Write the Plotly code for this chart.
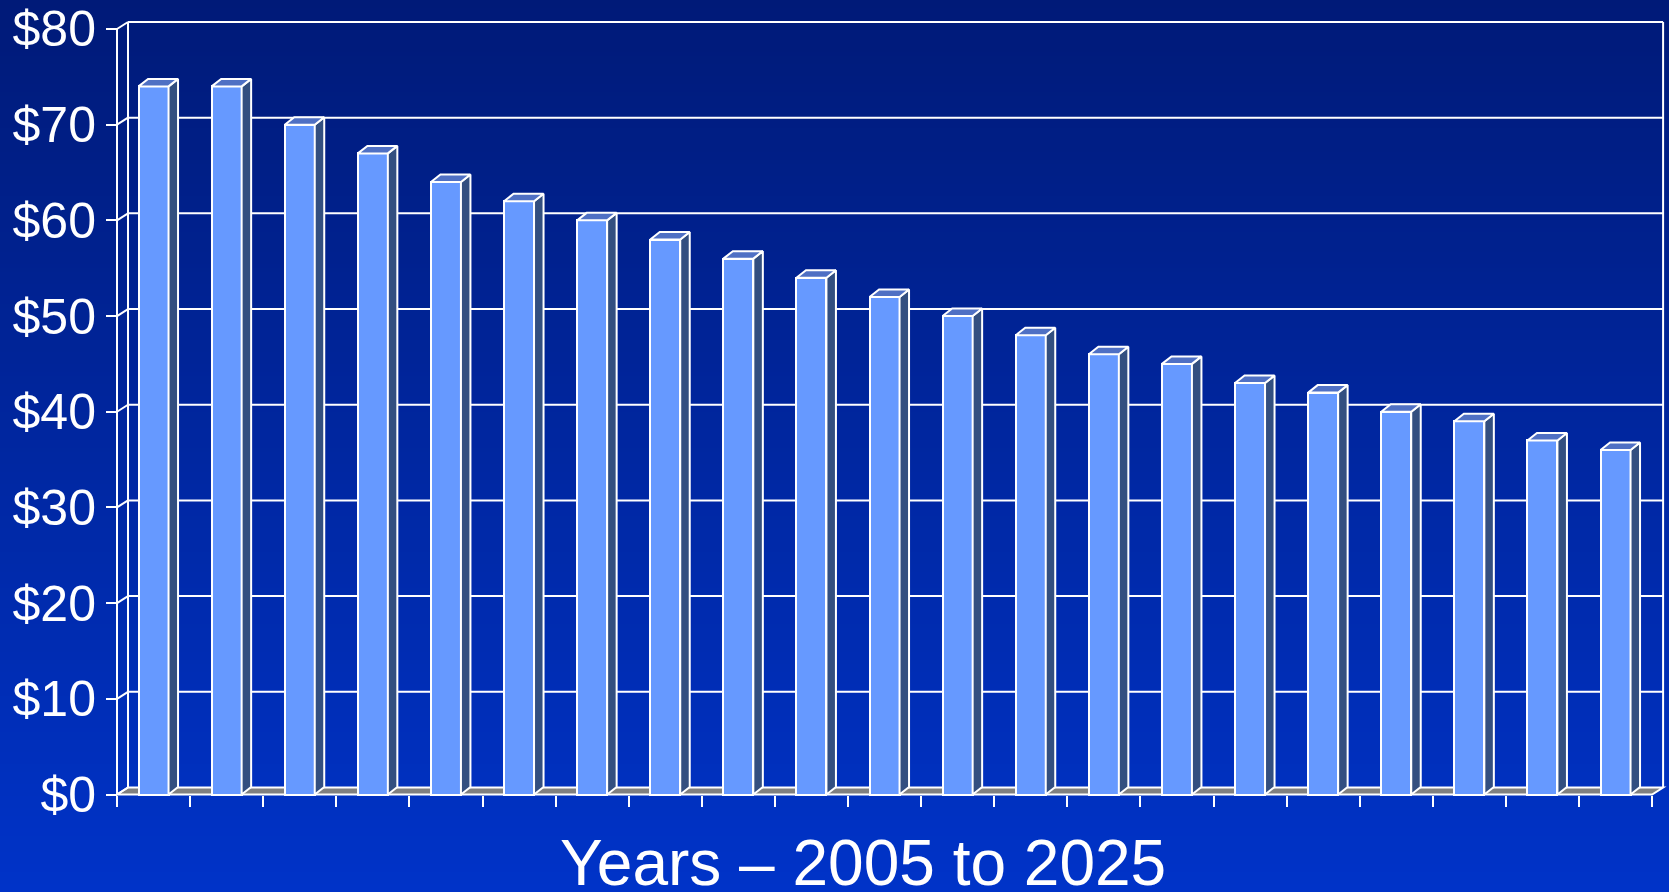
import plotly.graph_objects as go

# ---- data ----
years = ["2005", "2006", "2007", "2008", "2009", "2010", "2011", "2012", "2013", "2014", "2015",
         "2016", "2017", "2018", "2019", "2020", "2021", "2022", "2023", "2024", "2025"]
values = [74, 74, 70, 67, 64, 62, 60, 58, 56, 54, 52, 50, 48, 46, 45, 43, 42, 40, 39, 37, 36]
y_ticks = [0, 10, 20, 30, 40, 50, 60, 70, 80]
y_tick_labels = ["$0", "$10", "$20", "$30", "$40", "$50", "$60", "$70", "$80"]
x_title = "Years \u2013 2005 to 2025"

# ---- page / pixel geometry ----
W, H = 1669, 892
M_L, M_R, M_T, M_B = 100, 0, 4, 80
plot_w = W - M_L - M_R
plot_h = H - M_T - M_B

FRONT_LEFT_PX = 117      # front edge of the value axis
CAT_PX = 73.1            # width of one category slot
ZERO_PX = 794.5          # front floor line
UNIT_PX = 9.569          # pixels per dollar

n = len(values)
x_lo = -0.5
x_hi = n - 0.5
x_range = [x_lo - (FRONT_LEFT_PX - M_L) / CAT_PX, x_lo + (W - M_R - FRONT_LEFT_PX) / CAT_PX]
y_range = [-(H - M_B - ZERO_PX) / UNIT_PX, (ZERO_PX - M_T) / UNIT_PX]
y_top = y_ticks[-1]

# depth offsets of the 3-D look (in data units)
WALL_DX, WALL_DY = 11 / CAT_PX, 7 / UNIT_PX
BAR_DX, BAR_DY = 9.5 / CAT_PX, 7.5 / UNIT_PX
HALF_W = 0.205

FRONT = "#6699FF"
SIDE = "#334F80"
TOP = "#4F70C4"
FLOOR = "#808080"
LINE = "#FFFFFF"
FONT = "Liberation Sans, Arial, sans-serif"

xs = list(range(n))

fig = go.Figure()

# front faces of the columns
fig.add_trace(go.Bar(
    x=xs, y=values, width=2 * HALF_W,
    marker=dict(color=FRONT, line=dict(color=LINE, width=2)),
    hoverinfo="skip", showlegend=False,
))

# right-hand side faces
sx, sy = [], []
for x, v in zip(xs, values):
    r = x + HALF_W
    sx += [r, r + BAR_DX, r + BAR_DX, r, r, None]
    sy += [0, BAR_DY, v + BAR_DY, v, 0, None]
fig.add_trace(go.Scatter(
    x=sx, y=sy, mode="lines", fill="toself", fillcolor=SIDE,
    line=dict(color=LINE, width=2), hoverinfo="skip", showlegend=False,
))

# top faces
tx, ty = [], []
for x, v in zip(xs, values):
    l, r = x - HALF_W, x + HALF_W
    tx += [l, r, r + BAR_DX, l + BAR_DX, l, None]
    ty += [v, v, v + BAR_DY, v + BAR_DY, v, None]
fig.add_trace(go.Scatter(
    x=tx, y=ty, mode="lines", fill="toself", fillcolor=TOP,
    line=dict(color=LINE, width=2), hoverinfo="skip", showlegend=False,
))

shapes = []

# vertical background gradient
N_BANDS = 223
c_top = (0, 26, 120)
c_bot = (0, 51, 200)
for k in range(N_BANDS):
    t = k / (N_BANDS - 1)
    col = "rgb(%d,%d,%d)" % tuple(round(a + (b - a) * t) for a, b in zip(c_top, c_bot))
    py0 = k * H / N_BANDS
    py1 = (k + 1) * H / N_BANDS + 0.8
    shapes.append(dict(
        type="rect", xref="paper", yref="paper", layer="below",
        x0=-M_L / plot_w, x1=1 + M_R / plot_w + 0.01,
        y0=(H - M_B - py1) / plot_h, y1=(H - M_B - py0) / plot_h,
        fillcolor=col, line=dict(width=0),
    ))

wl = dict(color=LINE, width=2)

# floor slab
shapes.append(dict(
    type="path", xref="x", yref="y", layer="below",
    path="M %f,0 L %f,0 L %f,%f L %f,%f Z" % (
        x_lo, x_hi, x_hi + WALL_DX, WALL_DY, x_lo + WALL_DX, WALL_DY),
    fillcolor=FLOOR, line=wl,
))

# back-wall gridlines
for v in y_ticks[1:]:
    shapes.append(dict(type="line", xref="x", yref="y", layer="below",
                       x0=x_lo + WALL_DX, x1=x_hi + WALL_DX,
                       y0=v + WALL_DY, y1=v + WALL_DY, line=wl))

# left wall: front edge, back edge and tick connectors
shapes.append(dict(type="line", xref="x", yref="y", layer="below",
                   x0=x_lo, x1=x_lo, y0=0, y1=y_top, line=wl))
shapes.append(dict(type="line", xref="x", yref="y", layer="below",
                   x0=x_lo + WALL_DX, x1=x_lo + WALL_DX,
                   y0=WALL_DY, y1=y_top + WALL_DY, line=wl))
for v in y_ticks:
    shapes.append(dict(type="line", xref="x", yref="y", layer="below",
                       x0=x_lo, x1=x_lo + WALL_DX, y0=v, y1=v + WALL_DY, line=wl))

# right edge of the back wall
shapes.append(dict(type="line", xref="x", yref="y", layer="below",
                   x0=x_hi + WALL_DX, x1=x_hi + WALL_DX,
                   y0=WALL_DY, y1=y_top + WALL_DY, line=wl))

fig.update_layout(
    width=W, height=H,
    margin=dict(l=M_L, r=M_R, t=M_T, b=M_B, pad=0),
    paper_bgcolor="rgba(0,0,0,0)",
    plot_bgcolor="rgba(0,0,0,0)",
    shapes=shapes,
    showlegend=False,
    bargap=0,
    font=dict(family=FONT, color="white"),
    xaxis=dict(
        range=x_range, anchor="free", position=(H - M_B - ZERO_PX) / plot_h,
        tickmode="array", tickvals=[x - 0.5 for x in xs] + [x_hi],
        showticklabels=False, ticks="outside", ticklen=11, tickwidth=2,
        tickcolor=LINE, showgrid=False, zeroline=False, showline=False,
        fixedrange=True,
    ),
    yaxis=dict(
        range=y_range, anchor="free", position=(FRONT_LEFT_PX - M_L) / plot_w,
        tickmode="array", tickvals=y_ticks, ticktext=y_tick_labels,
        ticks="outside", ticklen=11, tickwidth=2, tickcolor=LINE,
        tickfont=dict(family=FONT, size=50, color="white"),
        showgrid=False, zeroline=False, showline=False, fixedrange=True,
    ),
    annotations=[dict(
        text=x_title, xref="paper", yref="paper",
        x=(863 - M_L) / plot_w, y=(H - M_B - 863) / plot_h,
        xanchor="center", yanchor="middle", showarrow=False,
        font=dict(family=FONT, size=64, color="white"),
    )],
)

fig.write_html("out.html")
